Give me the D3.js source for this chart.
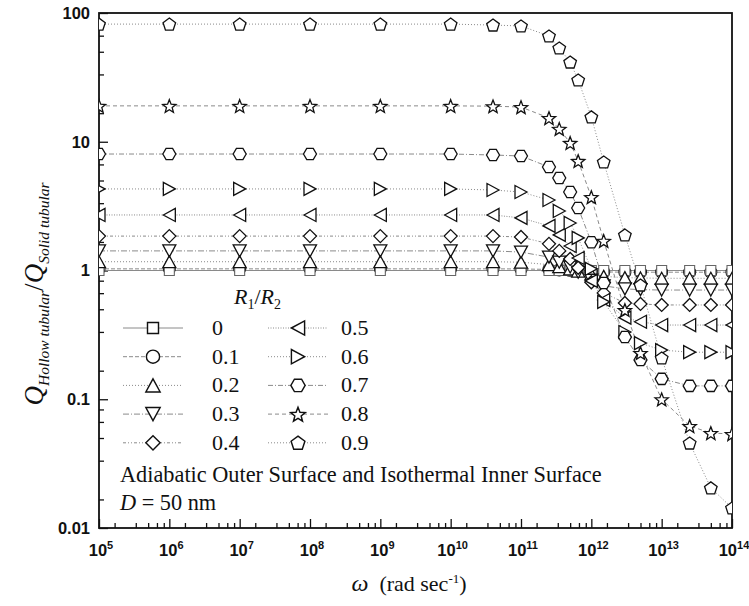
<!DOCTYPE html>
<html>
<head>
<meta charset="utf-8">
<script src="https://cdn.jsdelivr.net/npm/d3@7/dist/d3.min.js"></script>
<style>
    body { margin: 0; background: #fff; }
    #chart { width: 749px; height: 606px; }
    .tick-label { font-family: "Liberation Sans", Arial, sans-serif; font-weight: bold; font-size: 16.5px; fill: #111; }
    .serif { font-family: "Liberation Serif", "Times New Roman", serif; fill: #111; }
</style>
</head>
<body>
<div id="chart"></div>
<script>

// angular frequency (rad/s) where the points sit
const omega = [1e5, 1e6, 1e7, 1e8, 1e9, 1e10, 4e10, 1e11, 2.5e11, 3.5e11, 5e11, 6.5e11,
    1e12, 1.5e12, 3e12, 5e12, 1e13, 2.5e13, 5e13, 1e14];

// R1/R2 values shown in the legend
const ratios = ["0", "0.1", "0.2", "0.3", "0.4", "0.5", "0.6", "0.7", "0.8", "0.9"];

// Q hollow / Q solid, one list per R1/R2
const q00 = [1, 1, 1, 1, 1, 1, 1, 1, 1, 1, 1, 1, 1, 1, 1, 1, 1, 1, 1, 1];
const q01 = [1.03, 1.03, 1.03, 1.03, 1.03, 1.03, 1.03, 1.028, 1.02, 1.012, 1.004, 0.995, 0.985, 0.975, 0.97, 0.97, 0.97, 0.97, 0.97, 0.97];
const q02 = [1.17, 1.17, 1.17, 1.17, 1.17, 1.17, 1.17, 1.16, 1.11, 1.07, 1.03, 0.99, 0.94, 0.9, 0.88, 0.875, 0.87, 0.87, 0.87, 0.87];
const q03 = [1.42, 1.42, 1.42, 1.42, 1.42, 1.42, 1.42, 1.39, 1.27, 1.16, 1.065, 0.97, 0.84, 0.76, 0.72, 0.71, 0.705, 0.705, 0.705, 0.705];
const q04 = [1.85, 1.85, 1.85, 1.85, 1.85, 1.85, 1.85, 1.82, 1.61, 1.42, 1.23, 1.05, 0.81, 0.67, 0.56, 0.55, 0.54, 0.54, 0.54, 0.54];
const q05 = [2.7, 2.7, 2.7, 2.7, 2.7, 2.7, 2.7, 2.56, 2.22, 1.89, 1.55, 1.25, 0.83, 0.59, 0.43, 0.4, 0.377, 0.377, 0.377, 0.377];
const q06 = [4.3, 4.3, 4.3, 4.3, 4.3, 4.3, 4.22, 4.07, 3.53, 2.9, 2.34, 1.79, 1.03, 0.57, 0.333, 0.273, 0.241, 0.232, 0.232, 0.232];
const q07 = [8.03, 8.03, 8.03, 8.03, 8.03, 8.03, 7.89, 7.75, 6.37, 5.23, 4.07, 3.06, 1.66, 0.8, 0.304, 0.202, 0.144, 0.127, 0.127, 0.127];
const q08 = [19, 19, 19, 19, 19, 19, 18.9, 18.6, 15.3, 12.6, 9.8, 7.1, 3.72, 1.7, 0.494, 0.229, 0.1, 0.062, 0.0547, 0.0537];
const q09 = [82, 82, 82, 82, 82, 82, 80.6, 79.3, 66.3, 53.5, 41.6, 30.2, 15.6, 6.96, 1.89, 0.771, 0.209, 0.0457, 0.0205, 0.0143];

// tick labels
const yTicks = [0.01, 0.1, 1, 10, 100];
const yTickLabels = ["0.01", "0.1", "1", "10", "100"];
const xExponents = [5, 6, 7, 8, 9, 10, 11, 12, 13, 14];


class RatioChart {

    constructor(parentElement, series) {
        this.parentElement = parentElement;
        this.series = series;
        // marker + dash style per R1/R2
        this.shapes = ["square", "circle", "up", "down", "diamond", "left", "right", "hexagon", "star", "pentagon"];
        this.dashes = [null, "4,2", "1,2", "6,2,1,2", "3,2,1,2,1,2", "1,1.5", "1,2", "5,2,1,2", "4,3", "1,2"];
        this.initVis();
    }

    initVis() {
        let vis = this;

        vis.margin = {top: 13, right: 17, bottom: 78, left: 99};
        vis.width = 749 - vis.margin.left - vis.margin.right;
        vis.height = 606 - vis.margin.top - vis.margin.bottom;

        vis.root = d3.select("#" + vis.parentElement).append("svg")
            .attr("width", 749)
            .attr("height", 606);

        vis.svg = vis.root.append("g")
            .attr("transform", `translate(${vis.margin.left}, ${vis.margin.top})`);

        vis.svg.append("clipPath").attr("id", "plot-clip")
            .append("rect")
            .attr("width", vis.width)
            .attr("height", vis.height);

        vis.x = d3.scaleLog().domain([1e5, 1e14]).range([0, vis.width]);
        vis.y = d3.scaleLog().domain([0.01, 100]).range([vis.height, 0]);

        // minor ticks split each decade linearly in six parts
        vis.xMinor = [];
        for (let e = 5; e < 14; e++) {
            for (let k = 1; k <= 5; k++) vis.xMinor.push(Math.pow(10, e + 1) * k / 6);
        }
        vis.yMinor = [];
        for (let e = -2; e < 2; e++) {
            for (let k = 1; k <= 5; k++) vis.yMinor.push(Math.pow(10, e + 1) * k / 6);
        }

        vis.drawAxes();
        vis.updateVis();
        vis.drawLegend();
    }

    drawAxes() {
        let vis = this;

        let xMajor = d3.axisBottom(vis.x)
            .tickValues(xExponents.map(e => Math.pow(10, e)))
            .tickSizeInner(-9).tickSizeOuter(0).tickFormat("");
        let xMinor = d3.axisBottom(vis.x)
            .tickValues(vis.xMinor).tickSizeInner(-5).tickSizeOuter(0).tickFormat("");
        let yMajor = d3.axisLeft(vis.y)
            .tickValues(yTicks).tickSizeInner(-9).tickSizeOuter(0).tickFormat("");
        let yMinor = d3.axisLeft(vis.y)
            .tickValues(vis.yMinor).tickSizeInner(-5).tickSizeOuter(0).tickFormat("");

        [xMajor, xMinor].forEach(ax => {
            vis.svg.append("g").attr("class", "x-axis")
                .attr("transform", `translate(0, ${vis.height})`)
                .call(ax);
        });
        [yMajor, yMinor].forEach(ax => {
            vis.svg.append("g").attr("class", "y-axis").call(ax);
        });
        vis.svg.selectAll(".x-axis line, .y-axis line").attr("stroke", "#111").attr("stroke-width", 1.3);
        vis.svg.selectAll(".x-axis path, .y-axis path").attr("stroke", "none");

        // frame
        vis.svg.append("rect")
            .attr("width", vis.width)
            .attr("height", vis.height)
            .attr("fill", "none")
            .attr("stroke", "#111")
            .attr("stroke-width", 1.8);

        // y tick labels
        vis.svg.selectAll(".ylab").data(yTicks).enter().append("text")
            .attr("class", "tick-label")
            .attr("x", -9)
            .attr("y", d => vis.y(d))
            .attr("dy", "0.36em")
            .attr("text-anchor", "end")
            .text((d, i) => yTickLabels[i]);

        // x tick labels, 10 with exponent
        let xl = vis.svg.selectAll(".xlab").data(xExponents).enter().append("text")
            .attr("class", "tick-label")
            .attr("x", d => vis.x(Math.pow(10, d)) + 2)
            .attr("y", vis.height + 28)
            .attr("text-anchor", "middle");
        xl.append("tspan").text("10");
        xl.append("tspan").attr("font-size", "11px").attr("dy", -7).text(d => d);

        // x title
        let xt = vis.root.append("text")
            .attr("class", "serif")
            .attr("x", 409)
            .attr("y", 591)
            .attr("text-anchor", "middle")
            .attr("font-size", "22px");
        xt.append("tspan").attr("font-style", "italic").attr("font-size", "24px").text("\u03c9");
        xt.append("tspan").text("\u00a0\u00a0(rad sec");
        xt.append("tspan").attr("font-size", "13px").attr("dy", -8).text("-1");
        xt.append("tspan").attr("dy", 8).text(")");

        // y title
        let yt = vis.root.append("text")
            .attr("class", "serif")
            .attr("transform", "translate(43, 294) rotate(-90)")
            .attr("text-anchor", "middle")
            .attr("font-style", "italic")
            .attr("font-size", "27px");
        yt.append("tspan").text("Q");
        yt.append("tspan").attr("font-size", "15.5px").attr("dy", 6).text("Hollow tubular");
        yt.append("tspan").attr("font-style", "normal").attr("dy", -6).text("/");
        yt.append("tspan").text("Q");
        yt.append("tspan").attr("font-size", "15.5px").attr("dy", 6).text("Solid tubular");
    }

    symbolPath(shape) {
        let poly = pts => "M" + pts.map(p => p[0].toFixed(2) + "," + p[1].toFixed(2)).join("L") + "Z";
        let ring = (n, r, start) => d3.range(n).map(i => {
            let a = start + i * 2 * Math.PI / n;
            return [r * Math.cos(a), r * Math.sin(a)];
        });
        let w = 6.5, h = 6;
        switch (shape) {
            case "square": return poly([[-5, -5], [5, -5], [5, 5], [-5, 5]]);
            case "circle": return "M6,0A6,6 0 1 1 -6,0A6,6 0 1 1 6,0Z";
            case "up": return poly([[0, -h], [w, h], [-w, h]]);
            case "down": return poly([[0, h], [w, -h], [-w, -h]]);
            case "left": return poly([[-h, 0], [h, -w], [h, w]]);
            case "right": return poly([[h, 0], [-h, -w], [-h, w]]);
            case "diamond": return poly([[0, -6.5], [6.5, 0], [0, 6.5], [-6.5, 0]]);
            case "hexagon": return poly(ring(6, 6.5, 0));
            case "pentagon": return poly(ring(5, 6.6, -Math.PI / 2).map(p => [p[0], p[1] + 0.6]));
            case "star": return poly(d3.range(10).map(i => {
                let a = -Math.PI / 2 + i * Math.PI / 5;
                let r = i % 2 === 0 ? 7 : 3;
                return [r * Math.cos(a), r * Math.sin(a) + 0.8];
            }));
        }
    }

    updateVis() {
        let vis = this;

        let plot = vis.svg.append("g").attr("clip-path", "url(#plot-clip)");

        let line = d3.line()
            .x((d, i) => vis.x(omega[i]))
            .y(d => vis.y(d));

        vis.series.forEach((vals, s) => {
            plot.append("path").datum(vals)
                .attr("class", "ratio-line-" + s)
                .attr("fill", "none")
                .attr("stroke", "#8a8a8a")
                .attr("stroke-width", 1)
                .attr("stroke-dasharray", vis.dashes[s])
                .attr("d", line);
        });

        // circles first so the R1/R2 = 0 squares stay on top of them
        let order = [1, 0, 2, 3, 4, 5, 6, 7, 8, 9];
        order.forEach(s => {
            let vals = vis.series[s];
            plot.selectAll(".mark-" + s).data(vals).enter().append("path")
                .attr("class", "mark-" + s)
                .attr("transform", (d, i) => `translate(${vis.x(omega[i])}, ${vis.y(d)})`)
                .attr("d", vis.symbolPath(vis.shapes[s]))
                .attr("fill", "#fff")
                .attr("stroke", s === 0 ? "#666" : "#111")
                .attr("stroke-width", s < 2 ? 1.1 : 1.3);
        });
    }

    drawLegend() {
        let vis = this;
        let leg = vis.root.append("g");

        let title = leg.append("text")
            .attr("class", "serif")
            .attr("x", 234)
            .attr("y", 304)
            .attr("font-size", "22px")
            .attr("font-style", "italic");
        title.append("tspan").text("R");
        title.append("tspan").attr("font-size", "14px").attr("font-style", "normal").attr("dy", 5).text("1");
        title.append("tspan").attr("font-style", "normal").attr("dy", -5).text("/");
        title.append("tspan").text("R");
        title.append("tspan").attr("font-size", "14px").attr("font-style", "normal").attr("dy", 5).text("2");

        ratios.forEach((r, i) => {
            let col = i < 5 ? 0 : 1;
            let row = i % 5;
            let y = 328 + row * 28.7;
            let x0 = col === 0 ? 123 : 268;
            let g = leg.append("g");
            g.append("line")
                .attr("x1", x0).attr("x2", x0 + 60)
                .attr("y1", y).attr("y2", y)
                .attr("stroke", "#8a8a8a")
                .attr("stroke-width", 1)
                .attr("stroke-dasharray", vis.dashes[i]);
            g.append("path")
                .attr("transform", `translate(${x0 + 30}, ${y}) scale(1.1)`)
                .attr("d", vis.symbolPath(vis.shapes[i]))
                .attr("fill", "#fff")
                .attr("stroke", "#111")
                .attr("stroke-width", 1.3);
            g.append("text")
                .attr("class", "serif")
                .attr("x", col === 0 ? 212 : 341)
                .attr("y", y + 7)
                .attr("font-size", "22px")
                .text(r);
        });

        leg.append("text")
            .attr("class", "serif")
            .attr("x", 120)
            .attr("y", 482)
            .attr("font-size", "22.3px")
            .text("Adiabatic Outer Surface and Isothermal Inner Surface");

        let dl = leg.append("text")
            .attr("class", "serif")
            .attr("x", 120)
            .attr("y", 510)
            .attr("font-size", "22.3px");
        dl.append("tspan").attr("font-style", "italic").text("D");
        dl.append("tspan").text(" = 50 nm");
    }
}

let chart = new RatioChart("chart", [q00, q01, q02, q03, q04, q05, q06, q07, q08, q09]);

</script>
</body>
</html>
